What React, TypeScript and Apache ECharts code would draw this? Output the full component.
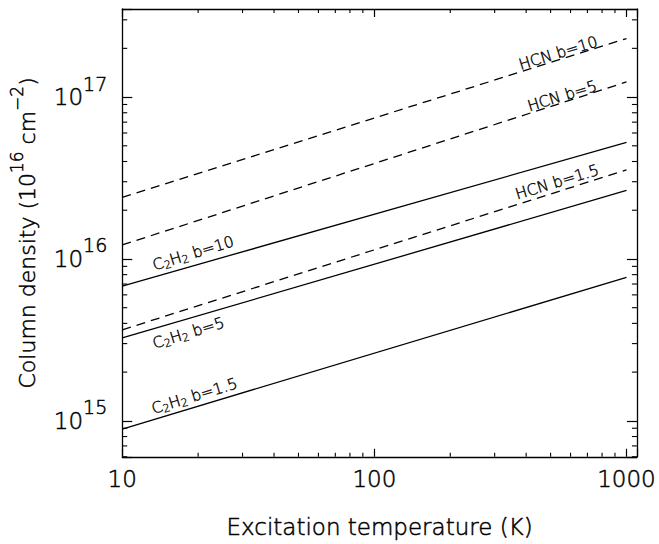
import React, { useEffect, useRef } from "react";
import * as echarts from "echarts";

// ---- data ----
const temperatures = [10, 1000];
const c2h2B15 = [8.9e14, 7.7e15];
const c2h2B5 = [3.25e15, 2.65e16];
const c2h2B10 = [6.8e15, 5.25e16];
const hcnB15 = [3.65e15, 3.55e16];
const hcnB5 = [1.22e16, 1.24e17];
const hcnB10 = [2.4e16, 2.3e17];

const xMinorTicks = [20, 30, 40, 50, 60, 70, 80, 90, 200, 300, 400, 500, 600, 700, 800, 900];
const yMinorTicks = [
  6e14, 7e14, 8e14, 9e14,
  2e15, 3e15, 4e15, 5e15, 6e15, 7e15, 8e15, 9e15,
  2e16, 3e16, 4e16, 5e16, 6e16, 7e16, 8e16, 9e16,
  2e17, 3e17,
];

const X_MIN = 10;
const X_MAX = 1100;
const Y_MIN = 6e14;
const Y_MAX = 3.5e17;

// label text (rich) and their anchor positions in data coordinates
const labelSpecs = [
  { values: c2h2B15, dashed: false, text: "{a|C}{u|2}{a|H}{u|2}{a| b=1.5}", at: [19.3, 1.43e15] },
  { values: c2h2B5, dashed: false, text: "{a|C}{u|2}{a|H}{u|2}{a| b=5}", at: [18.3, 3.51e15] },
  { values: c2h2B10, dashed: false, text: "{a|C}{u|2}{a|H}{u|2}{a| b=10}", at: [19.1, 1.09e16] },
  { values: hcnB15, dashed: true, text: "{a|HCN b=1.5}", at: [530, 3.0e16] },
  { values: hcnB5, dashed: true, text: "{a|HCN b=5}", at: [555, 1.02e17] },
  { values: hcnB10, dashed: true, text: "{a|HCN b=10}", at: [535, 1.876e17] },
];

const FONT = "DejaVu Sans";
const W = 200;
const TB = { textBorderColor: "#000", textBorderWidth: 0.5 };

function isPow10(v: number) {
  const l = Math.log10(v);
  return Math.abs(l - Math.round(l)) < 1e-6;
}

export default function App() {
  const ref = useRef<HTMLDivElement>(null);
  useEffect(() => {
    if (!ref.current) return;
    const chart = echarts.init(ref.current, undefined, { renderer: "svg" });

    const lineSeries = labelSpecs.map((s) => ({
      type: "line",
      xAxisIndex: 0,
      yAxisIndex: 0,
      data: temperatures.map((t, i) => [t, s.values[i]]),
      showSymbol: false,
      symbol: "none",
      lineStyle: { color: "#000", width: 1.3, type: s.dashed ? [9, 6] : "solid" },
      markPoint: {
        symbol: "circle",
        symbolSize: 0,
        itemStyle: { color: "rgba(0,0,0,0)" },
        data: [
          {
            coord: s.at,
            label: {
              show: true,
              position: "inside",
              rotate: 17,
              formatter: s.text,
              color: "#000",
              rich: {
                a: { fontFamily: FONT, fontWeight: W, fontSize: 15.5, lineHeight: 15, verticalAlign: "top", color: "#000", ...TB, textBorderWidth: 0.4 },
                u: { fontFamily: FONT, fontWeight: W, fontSize: 11, lineHeight: 11, verticalAlign: "top", padding: [6, 0, 0, 0], color: "#000", ...TB, textBorderWidth: 0.3 },
              },
            },
          },
        ],
      },
    }));

    const option: any = {
      animation: false,
      backgroundColor: "#fff",
      grid: { left: 122, right: 21, top: 9, bottom: 87, containLabel: false },
      xAxis: [
        {
          type: "log",
          logBase: 10,
          min: X_MIN,
          max: X_MAX,
          position: "bottom",
          name: "Excitation temperature (K)",
          nameLocation: "middle",
          nameGap: 59,
          nameTextStyle: { fontFamily: FONT, fontWeight: W, fontSize: 23, color: "#000", ...TB },
          axisLine: { show: true, lineStyle: { color: "#000", width: 1.3 } },
          axisTick: { show: true, inside: true, length: 8, lineStyle: { color: "#000", width: 1.2 } },
          axisLabel: {
            show: true,
            margin: 11,
            fontFamily: FONT,
            fontWeight: W,
            fontSize: 23,
            color: "#000",
            ...TB,
            showMinLabel: true,
            showMaxLabel: true,
            formatter: (v: number) => (isPow10(v) ? String(Math.round(v)) : ""),
          },
          splitLine: { show: false },
        },
        {
          type: "log",
          logBase: 10,
          min: X_MIN,
          max: X_MAX,
          position: "top",
          axisLine: { show: true, lineStyle: { color: "#000", width: 1.3 } },
          axisTick: { show: true, inside: true, length: 8, lineStyle: { color: "#000", width: 1.2 } },
          axisLabel: { show: false },
          splitLine: { show: false },
        },
      ],
      yAxis: [
        {
          type: "log",
          logBase: 10,
          min: Y_MIN,
          max: Y_MAX,
          position: "left",
          name: "{n|Column density (10}{s|16}{n| cm}{s|\u22122}{n|)}",
          nameLocation: "middle",
          nameGap: 76,
          nameRotate: 90,
          nameTextStyle: {
            color: "#000",
            rich: {
              n: { fontFamily: FONT, fontWeight: W, fontSize: 22, lineHeight: 38, color: "#000", ...TB },
              s: { fontFamily: FONT, fontWeight: W, fontSize: 17, lineHeight: 18, verticalAlign: "top", color: "#000", ...TB },
            },
          },
          axisLine: { show: true, lineStyle: { color: "#000", width: 1.3 } },
          axisTick: { show: true, inside: true, length: 10, lineStyle: { color: "#000", width: 1.2 } },
          axisLabel: {
            show: true,
            margin: 15,
            formatter: (v: number) => (isPow10(v) ? `{b|10}{s|${Math.round(Math.log10(v))}}` : ""),
            rich: {
              b: { fontFamily: FONT, fontWeight: W, fontSize: 23, lineHeight: 46, color: "#000", ...TB },
              s: { fontFamily: FONT, fontWeight: W, fontSize: 19, lineHeight: 20, verticalAlign: "top", color: "#000", ...TB },
            },
          },
          splitLine: { show: false },
        },
        {
          type: "log",
          logBase: 10,
          min: Y_MIN,
          max: Y_MAX,
          position: "right",
          axisLine: { show: true, lineStyle: { color: "#000", width: 1.3 } },
          axisTick: { show: true, inside: true, length: 10, lineStyle: { color: "#000", width: 1.2 } },
          axisLabel: { show: false },
          splitLine: { show: false },
        },
      ],
      series: [
        ...lineSeries,
        {
          type: "custom",
          xAxisIndex: 0,
          yAxisIndex: 0,
          silent: true,
          clip: false,
          data: xMinorTicks.map((v) => [v, 1e16]),
          renderItem: (params: any, api: any) => {
            const p = api.coord([api.value(0), api.value(1)]);
            const cs = params.coordSys;
            const bottom = cs.y + cs.height;
            return {
              type: "group",
              children: [
                { type: "line", shape: { x1: p[0], y1: bottom, x2: p[0], y2: bottom - 4 }, style: { stroke: "#000", lineWidth: 1.1 } },
                { type: "line", shape: { x1: p[0], y1: cs.y, x2: p[0], y2: cs.y + 4 }, style: { stroke: "#000", lineWidth: 1.1 } },
              ],
            };
          },
        },
        {
          type: "custom",
          xAxisIndex: 0,
          yAxisIndex: 0,
          silent: true,
          clip: false,
          data: yMinorTicks.map((v) => [100, v]),
          renderItem: (params: any, api: any) => {
            const p = api.coord([api.value(0), api.value(1)]);
            const cs = params.coordSys;
            const right = cs.x + cs.width;
            return {
              type: "group",
              children: [
                { type: "line", shape: { x1: cs.x, y1: p[1], x2: cs.x + 5, y2: p[1] }, style: { stroke: "#000", lineWidth: 1.1 } },
                { type: "line", shape: { x1: right, y1: p[1], x2: right - 5, y2: p[1] }, style: { stroke: "#000", lineWidth: 1.1 } },
              ],
            };
          },
        },
      ],
    };

    chart.setOption(option);
    return () => chart.dispose();
  }, []);

  return (
    <div
      ref={ref}
      style={{ position: "fixed", left: 0, top: 0, width: 659, height: 544, background: "#fff" }}
    />
  );
}
